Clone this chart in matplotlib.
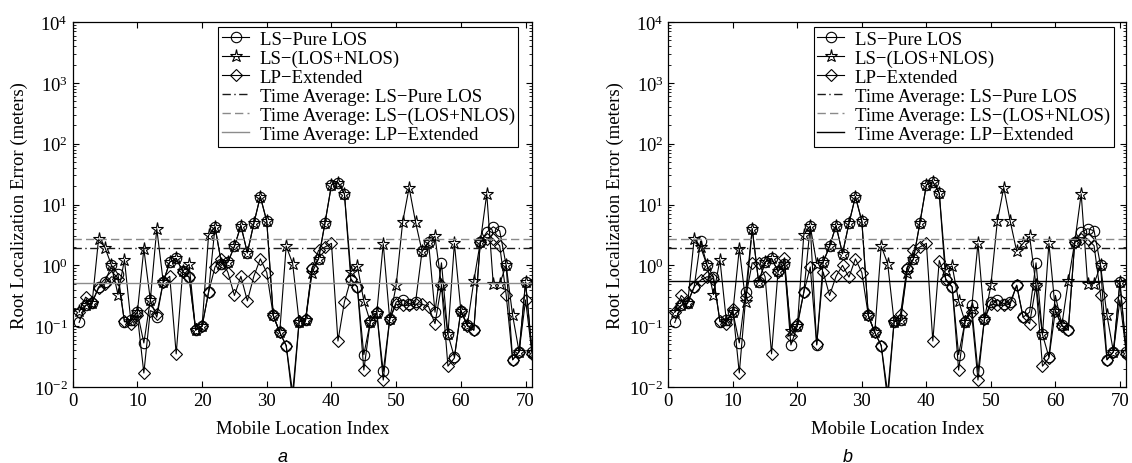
import matplotlib
matplotlib.use("Agg")
import matplotlib.pyplot as plt
import numpy as np

plt.rcParams['font.family'] = ['Liberation Serif', 'DejaVu Serif']
plt.rcParams['mathtext.fontset'] = 'stix'
plt.rcParams['font.size'] = 13.5

# mobile location index
idx = np.arange(1, 72)

# panel a
pure_los_a = [0.115, 0.22, 0.24, 0.44, 0.53, 1.0, 0.72, 0.118, 0.125, 0.17,
              0.053, 0.27, 0.14, 0.53, 1.13, 1.3, 0.8, 0.64, 0.086, 0.1,
              0.36, 4.3, 1.07, 1.13, 2.05, 4.5, 1.6, 4.9, 13.5, 5.3,
              0.15, 0.079, 0.048, 0.006, 0.118, 0.125, 0.88, 1.28, 5.0, 21,
              23, 15, 0.57, 0.44, 0.034, 0.118, 0.165, 0.018, 0.13, 0.25,
              0.27, 0.235, 0.25, 1.7, 2.4, 0.17, 1.1, 0.073, 0.031, 0.18,
              0.104, 0.086, 2.4, 3.5, 4.3, 3.7, 1.0, 0.028, 0.038, 0.53,
              0.038]
los_nlos_a = [0.18, 0.22, 0.24, 2.7, 1.95, 1.0, 0.33, 1.24, 0.12, 0.17,
              1.87, 0.27, 4.0, 0.53, 1.13, 1.3, 0.8, 1.04, 0.086, 0.1,
              3.1, 4.3, 1.07, 1.13, 2.05, 4.5, 1.6, 4.9, 13.5, 5.3,
              0.15, 0.079, 2.07, 1.07, 0.118, 0.125, 0.75, 1.28, 5.0, 21,
              23, 15, 0.78, 0.98, 0.26, 0.118, 0.165, 2.27, 0.13, 0.47,
              5.1, 19, 5.1, 1.7, 2.4, 3.0, 0.47, 0.073, 2.3, 0.18,
              0.104, 0.55, 2.4, 15, 0.5, 0.5, 1.0, 0.15, 0.038, 0.53,
              0.038]
lp_ext_a = [0.17, 0.30, 0.25, 0.42, 0.5, 0.65, 0.6, 0.12, 0.11, 0.15,
            0.017, 0.18, 0.16, 0.53, 0.66, 0.035, 0.78, 0.64, 0.09, 0.1,
            0.36, 0.94, 1.28, 0.76, 0.32, 0.66, 0.26, 0.66, 1.28, 0.76,
            0.15, 0.079, 0.048, 0.008, 0.12, 0.13, 0.9, 1.76, 2.0, 2.3,
            0.057, 0.25, 0.6, 0.44, 0.019, 0.12, 0.17, 0.013, 0.13, 0.23,
            0.22, 0.22, 0.23, 0.23, 0.21, 0.11, 0.47, 0.022, 0.03, 0.18,
            0.1, 0.086, 2.4, 2.7, 2.7, 2.1, 0.33, 0.028, 0.038, 0.27,
            0.035]

# panel b
pure_los_b = [0.115, 0.22, 0.24, 0.44, 2.5, 1.0, 0.65, 0.118, 0.125, 0.17,
              0.053, 0.37, 4.0, 0.53, 1.13, 1.3, 0.8, 1.04, 0.049, 0.1,
              0.36, 4.4, 0.049, 1.13, 2.05, 4.5, 1.55, 4.9, 13.5, 5.3,
              0.15, 0.079, 0.048, 0.006, 0.118, 0.125, 0.88, 1.28, 5.0, 21,
              23.8, 15.3, 0.57, 0.44, 0.034, 0.118, 0.22, 0.018, 0.13, 0.25,
              0.27, 0.235, 0.245, 0.47, 0.14, 0.17, 1.1, 0.073, 0.031, 0.32,
              0.104, 0.086, 2.4, 3.5, 4.0, 3.7, 1.0, 0.028, 0.038, 0.53,
              0.038]
los_nlos_b = [0.17, 0.22, 0.24, 2.7, 2.0, 1.0, 0.33, 1.24, 0.12, 0.17,
              1.87, 0.25, 4.0, 0.53, 1.13, 1.3, 0.8, 1.06, 0.083, 0.1,
              3.2, 4.4, 1.07, 1.13, 2.05, 4.5, 1.55, 4.9, 13.5, 5.3,
              0.15, 0.079, 2.07, 1.07, 0.118, 0.125, 0.75, 1.28, 5.0, 21,
              23.8, 15.3, 0.83, 0.98, 0.26, 0.118, 0.19, 2.3, 0.13, 0.47,
              5.3, 19, 5.3, 1.7, 2.3, 3.0, 0.47, 0.073, 2.3, 0.18,
              0.104, 0.55, 2.4, 15, 0.5, 0.5, 1.0, 0.15, 0.038, 0.53,
              0.038]
lp_ext_b = [0.17, 0.32, 0.25, 0.44, 0.57, 0.65, 0.6, 0.12, 0.11, 0.19,
            0.017, 0.3, 1.1, 1.1, 0.65, 0.035, 0.78, 1.3, 0.07, 0.11,
            0.36, 0.94, 0.05, 0.78, 0.32, 0.66, 1.0, 0.64, 1.28, 0.76,
            0.15, 0.079, 0.048, 0.008, 0.12, 0.16, 0.9, 1.76, 2.0, 2.3,
            0.057, 1.2, 0.6, 0.44, 0.019, 0.12, 0.17, 0.013, 0.13, 0.23,
            0.22, 0.22, 0.23, 0.47, 0.14, 0.11, 0.47, 0.022, 0.03, 0.18,
            0.1, 0.086, 2.4, 2.7, 2.7, 2.1, 0.33, 0.028, 0.038, 0.27,
            0.035]

# time averages
avg_a = [1.95, 2.7, 0.51]
avg_b = [1.95, 2.7, 0.55]

labels = ['LS\u2212Pure LOS', 'LS\u2212(LOS+NLOS)', 'LP\u2212Extended',
          'Time Average: LS\u2212Pure LOS', 'Time Average: LS\u2212(LOS+NLOS)',
          'Time Average: LP\u2212Extended']

fig = plt.figure(figsize=(11.32, 4.64), dpi=100)
ax_a = fig.add_axes([0.0642, 0.1638, 0.4058, 0.7866])
ax_b = fig.add_axes([0.5904, 0.1638, 0.4046, 0.7866])


def draw(ax, s1, s2, s3, avgs, solid_col):
    ax.plot(idx, s1, '-', color='black', lw=0.8, marker='o', ms=7.5,
            mfc='none', mec='black', mew=0.8)
    ax.plot(idx, s2, '-', color='black', lw=0.8, marker='*', ms=9.5,
            mfc='none', mec='black', mew=0.8)
    ax.plot(idx, s3, '-', color='black', lw=0.8, marker='D', ms=6.5,
            mfc='none', mec='black', mew=0.8)
    ax.axhline(avgs[0], color='#1a1a1a', lw=1.0, ls=(0, (6, 2.5, 1, 2.5)))
    ax.axhline(avgs[1], color='#8a8a8a', lw=1.0, ls=(0, (6, 3)))
    ax.axhline(avgs[2], color=solid_col, lw=1.0, ls='-')

    ax.set_yscale('log')
    ax.set_ylim(1e-2, 1e4)
    ax.set_xlim(0, 71)
    ax.set_xticks(np.arange(0, 71, 10))
    ax.set_yticks([1e-2, 1e-1, 1e0, 1e1, 1e2, 1e3, 1e4])
    ax.tick_params(which='both', direction='in', top=True, right=True,
                   labelsize=13.5)
    ax.tick_params(which='major', length=4, width=0.8)
    ax.tick_params(which='minor', length=2, width=0.6)
    for sp in ax.spines.values():
        sp.set_linewidth(0.9)
    ax.set_xlabel('Mobile Location Index', fontsize=13.5, labelpad=8)
    ax.set_ylabel('Root Localization Error (meters)', fontsize=13.5, labelpad=4)
    leg = ax.legend(labels, loc='upper left', bbox_to_anchor=(0.317, 0.987),
                    fancybox=False, framealpha=1, edgecolor='black',
                    fontsize=13.5, handlelength=1.45, handletextpad=0.55,
                    borderpad=0.2, labelspacing=0.1, borderaxespad=0)
    leg.get_frame().set_linewidth(0.8)


draw(ax_a, pure_los_a, los_nlos_a, lp_ext_a, avg_a, '#8c8c8c')
draw(ax_b, pure_los_b, los_nlos_b, lp_ext_b, avg_b, 'black')

fig.text(0.25, 0.005, 'a', fontsize=13, style='italic',
         family='Liberation Sans', ha='center')
fig.text(0.749, 0.005, 'b', fontsize=13, style='italic',
         family='Liberation Sans', ha='center')

fig.savefig('out.png', dpi=100)
